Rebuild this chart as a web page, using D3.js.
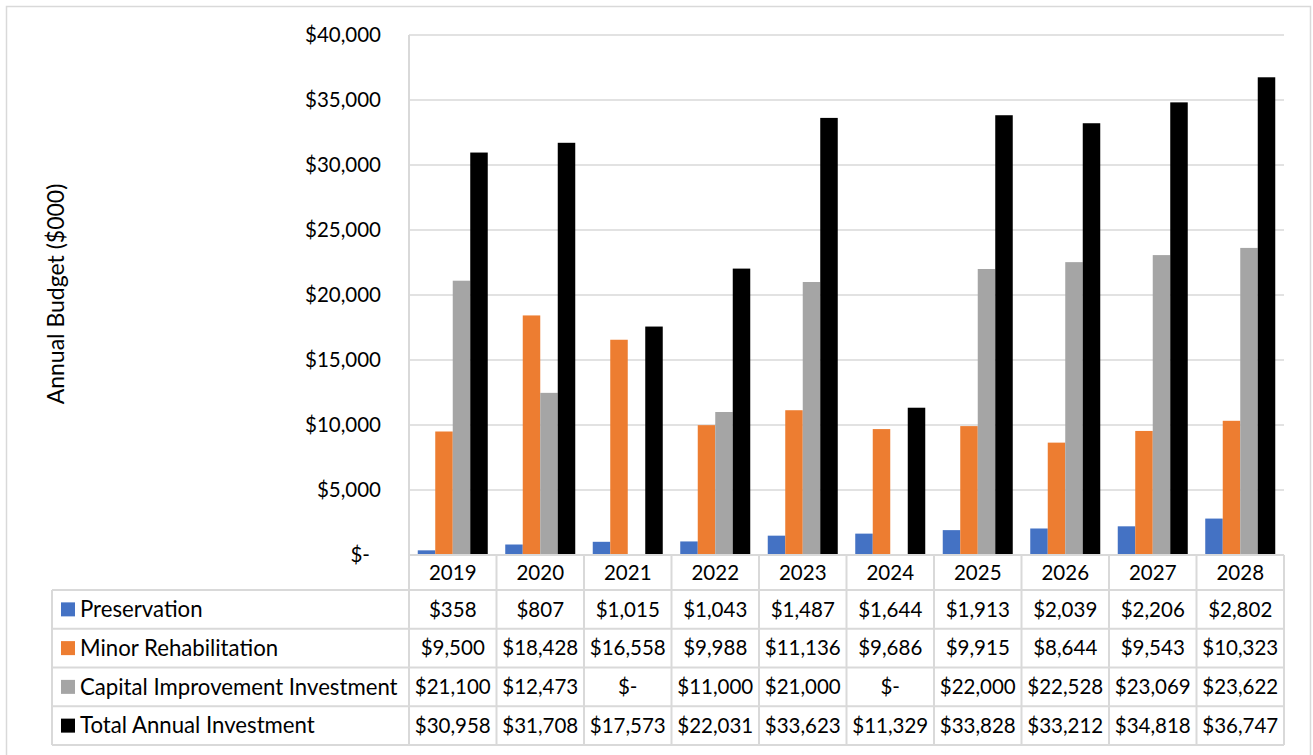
<!DOCTYPE html>
<html>
<head>
<meta charset="utf-8">
<script src="https://cdn.jsdelivr.net/npm/d3@7"></script>
<style>
  body { margin: 0; background: #fff; }
  svg text { font-family: Lato, "Open Sans", sans-serif; fill: #000; }
</style>
</head>
<body>
<div id="chart"></div>
<script>
// 数据
var years = ["2019", "2020", "2021", "2022", "2023", "2024", "2025", "2026", "2027", "2028"];
var seriesNames = ["Preservation", "Minor Rehabilitation", "Capital Improvement Investment", "Total Annual Investment"];
var preservation = [358, 807, 1015, 1043, 1487, 1644, 1913, 2039, 2206, 2802];
var minorRehab = [9500, 18428, 16558, 9988, 11136, 9686, 9915, 8644, 9543, 10323];
var capitalImprovement = [21100, 12473, 0, 11000, 21000, 0, 22000, 22528, 23069, 23622];
var totalInvestment = [30958, 31708, 17573, 22031, 33623, 11329, 33828, 33212, 34818, 36747];
var yTicks = [0, 5000, 10000, 15000, 20000, 25000, 30000, 35000, 40000];
var colors = ["#4472C4", "#ED7D31", "#A5A5A5", "#000000"];

var seriesValues = [preservation, minorRehab, capitalImprovement, totalInvestment];

var width = 1313, height = 755;
var plotLeft = 409, plotRight = 1284, plotTop = 35, plotBottom = 555;
var tableLeft = 52, rowH = 38.75, headerH = 35;

var svg = d3.select("#chart").append("svg")
    .attr("width", width)
    .attr("height", height);

// 外框
svg.append("rect")
    .attr("x", 6.5).attr("y", 6.5)
    .attr("width", 1304).attr("height", 760)
    .attr("fill", "none").attr("stroke", "#D9D9D9").attr("stroke-width", 1.5);

var x = d3.scaleBand().domain(years).range([plotLeft, plotRight]).padding(0);
var xInner = d3.scaleBand().domain(d3.range(4)).range([0, x.bandwidth()])
    .paddingInner(0).paddingOuter(0.5);
var y = d3.scaleLinear().domain([0, 40000]).range([plotBottom, plotTop]);

var money = function (v) { return v === 0 ? "$-" : "$" + d3.format(",")(v); };

// 网格线
svg.append("g").selectAll("line")
    .data(yTicks.filter(function (d) { return d > 0; }))
    .enter().append("line")
    .attr("x1", plotLeft).attr("x2", plotRight)
    .attr("y1", function (d) { return y(d); })
    .attr("y2", function (d) { return y(d); })
    .attr("stroke", "#D9D9D9").attr("stroke-width", 1.5);

// 柱子
var groups = svg.append("g").selectAll("g")
    .data(years)
    .enter().append("g")
    .attr("transform", function (d) { return "translate(" + x(d) + ",0)"; });

groups.selectAll("rect")
    .data(function (d, i) { return seriesValues.map(function (s, k) { return { k: k, v: s[i] }; }); })
    .enter().append("rect")
    .attr("x", function (d) { return xInner(d.k); })
    .attr("width", xInner.bandwidth())
    .attr("y", function (d) { return y(d.v); })
    .attr("height", function (d) { return y(0) - y(d.v); })
    .attr("fill", function (d) { return colors[d.k]; });

// Y轴标签
svg.append("g").selectAll("text")
    .data(yTicks)
    .enter().append("text")
    .attr("x", function (d) { return d === 0 ? 370 : 381; })
    .attr("y", function (d) { return y(d); })
    .attr("dy", "0.35em")
    .attr("text-anchor", "end")
    .style("font-size", "20.5px")
    .text(function (d) { return money(d); });

// Y轴标题
svg.append("text")
    .attr("transform", "translate(64," + ((plotTop + plotBottom) / 2 - 1) + ") rotate(-90)")
    .attr("text-anchor", "middle")
    .style("font-size", "23px")
    .text("Annual Budget ($000)");

// 数据表
var tbl = svg.append("g");
var lineColor = "#D9D9D9";
var tableBottom = plotBottom + headerH + rowH * 4;

// 竖线
var vLines = years.map(function (d) { return x(d); }).concat([plotRight]);
tbl.selectAll("line.v")
    .data(vLines)
    .enter().append("line")
    .attr("x1", function (d) { return d; }).attr("x2", function (d) { return d; })
    .attr("y1", function (d, i) { return i === 0 ? plotTop : plotBottom; })
    .attr("y2", tableBottom)
    .attr("stroke", lineColor).attr("stroke-width", 2);
tbl.append("line")
    .attr("x1", tableLeft).attr("x2", tableLeft)
    .attr("y1", plotBottom + headerH).attr("y2", tableBottom)
    .attr("stroke", lineColor).attr("stroke-width", 2);

// 横线
tbl.append("line")
    .attr("x1", plotLeft).attr("x2", plotRight)
    .attr("y1", plotBottom).attr("y2", plotBottom)
    .attr("stroke", lineColor).attr("stroke-width", 2);
tbl.selectAll("line.h")
    .data(d3.range(5))
    .enter().append("line")
    .attr("x1", tableLeft).attr("x2", plotRight)
    .attr("y1", function (i) { return plotBottom + headerH + i * rowH; })
    .attr("y2", function (i) { return plotBottom + headerH + i * rowH; })
    .attr("stroke", lineColor).attr("stroke-width", 2);

// 年份
tbl.selectAll("text.year")
    .data(years)
    .enter().append("text")
    .attr("x", function (d) { return x(d) + x.bandwidth() / 2; })
    .attr("y", plotBottom + headerH / 2)
    .attr("dy", "0.35em")
    .attr("text-anchor", "middle")
    .style("font-size", "20.5px")
    .text(function (d) { return d; });

// 行
var rows = tbl.selectAll("g.row")
    .data(seriesNames)
    .enter().append("g")
    .attr("transform", function (d, i) { return "translate(0," + (plotBottom + headerH + i * rowH + rowH / 2) + ")"; });

rows.append("rect")
    .attr("x", 61).attr("y", -7)
    .attr("width", 14).attr("height", 14)
    .attr("fill", function (d, i) { return colors[i]; });

rows.append("text")
    .attr("x", 80)
    .attr("dy", "0.35em")
    .style("font-size", "22.2px")
    .text(function (d) { return d; });

rows.each(function (name, k) {
    d3.select(this).selectAll("text.val")
        .data(seriesValues[k])
        .enter().append("text")
        .attr("x", function (d, i) { return x(years[i]) + x.bandwidth() / 2; })
        .attr("dy", "0.35em")
        .attr("text-anchor", "middle")
        .style("font-size", "20.5px")
        .text(function (d) { return money(d); });
});
</script>
</body>
</html>
